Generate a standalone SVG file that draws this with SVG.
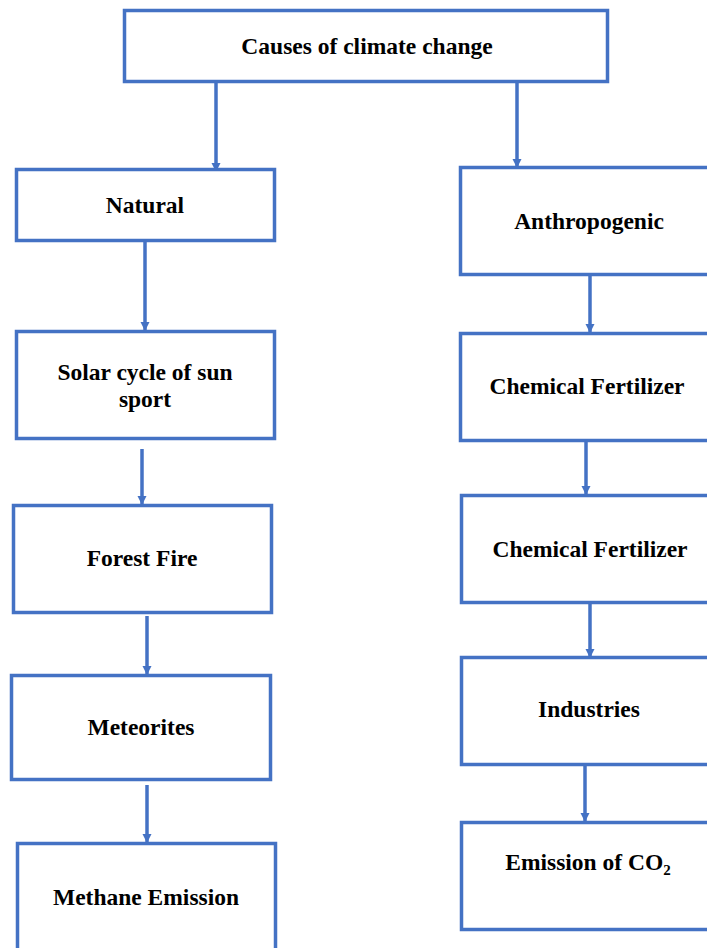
<svg xmlns="http://www.w3.org/2000/svg" width="707" height="948" viewBox="0 0 707 948">
<style>
.box{fill:#fff;stroke:#4472C4;stroke-width:3.5}
.t{font-family:"Liberation Serif","Times New Roman",serif;font-weight:bold;font-size:23.5px;fill:#000;text-anchor:middle}
.c{stroke:#4472C4;stroke-width:3.5;fill:none;marker-end:url(#ah)}
</style>
<defs>
<marker id="ah" viewBox="0 0 10 10" refX="10" refY="5" markerWidth="2.6" markerHeight="2.6" orient="auto" markerUnits="strokeWidth">
<path d="M0,0 L10,5 L0,10 z" fill="#4472C4"/>
</marker>
</defs>
<rect width="707" height="948" fill="#fff"/>
<g id="connectors">
<line class="c" x1="216" y1="82" x2="216" y2="172"/>
<line class="c" x1="517" y1="82" x2="517" y2="168"/>
<line class="c" x1="145" y1="241" x2="145" y2="331"/>
<line class="c" x1="142" y1="449" x2="142" y2="505"/>
<line class="c" x1="147" y1="616" x2="147" y2="675"/>
<line class="c" x1="147" y1="785" x2="147" y2="843"/>
<line class="c" x1="590" y1="276" x2="590" y2="333"/>
<line class="c" x1="586" y1="441" x2="586" y2="495"/>
<line class="c" x1="590" y1="603" x2="590" y2="658"/>
<line class="c" x1="585" y1="766" x2="585" y2="822"/>
</g>
<g id="n-causes"><rect class="box" x="124.5" y="10.5" width="483" height="71"/><text class="t" x="367" y="54">Causes of climate change</text></g>
<g id="n-natural"><rect class="box" x="16.5" y="169.5" width="258" height="71"/><text class="t" x="145" y="213">Natural</text></g>
<g id="n-anthro"><rect class="box" x="460.5" y="167.5" width="250" height="107"/><text class="t" x="589" y="229">Anthropogenic</text></g>
<g id="n-solar"><rect class="box" x="16.5" y="331.5" width="258" height="107"/><text class="t" x="145" y="380">Solar cycle of sun</text><text class="t" x="145" y="407">sport</text></g>
<g id="n-forest"><rect class="box" x="13.5" y="505.5" width="258" height="107"/><text class="t" x="142" y="566">Forest Fire</text></g>
<g id="n-meteor"><rect class="box" x="11.5" y="675.5" width="259" height="104"/><text class="t" x="141" y="735">Meteorites</text></g>
<g id="n-methane"><rect class="box" x="17.5" y="843.5" width="258" height="110"/><text class="t" x="146" y="905">Methane Emission</text></g>
<g id="n-chem1"><rect class="box" x="460.5" y="333.5" width="250" height="107"/><text class="t" x="587" y="394">Chemical Fertilizer</text></g>
<g id="n-chem2"><rect class="box" x="461.5" y="495.5" width="250" height="107"/><text class="t" x="590" y="557">Chemical Fertilizer</text></g>
<g id="n-ind"><rect class="box" x="461.5" y="657.5" width="250" height="107"/><text class="t" x="589" y="717">Industries</text></g>
<g id="n-co2"><rect class="box" x="461.5" y="822.5" width="250" height="107"/><text class="t" x="588" y="870">Emission of CO<tspan font-size="15" dy="5">2</tspan></text></g>
</svg>
